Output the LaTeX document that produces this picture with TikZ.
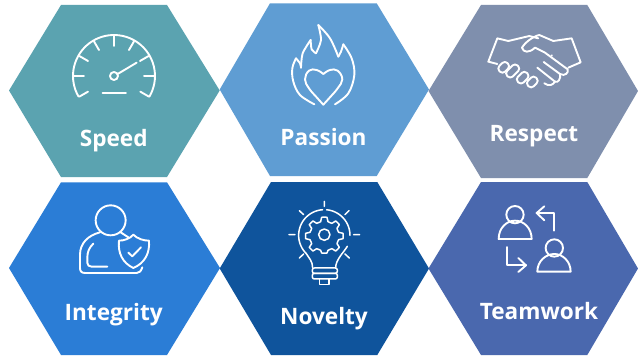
\documentclass[tikz,border=0pt]{standalone}
\usepackage{fontspec}
\setmainfont{Open Sans}
\definecolor{cspeed}{HTML}{5BA3B0}
\definecolor{cpassion}{HTML}{5F9DD3}
\definecolor{crespect}{HTML}{7F8FAD}
\definecolor{cintegrity}{HTML}{2B7DD6}
\definecolor{cnovelty}{HTML}{0F549C}
\definecolor{cteamwork}{HTML}{4A68AE}
\tikzset{
  lbl/.style={text=white,font=\fontsize{22.6}{25}\selectfont\bfseries,anchor=base,inner sep=0pt},
  ico/.style={draw=white,line width=1.9pt,line cap=round,line join=round},
  icothin/.style={draw=white,line width=1.5pt,line cap=round,line join=round},
  zoomed/.style={x=0.3333pt,y=-0.3333pt}
}
\begin{document}
\begin{tikzpicture}[x=1pt,y=-1pt]
\useasboundingbox (0,0) rectangle (638,361);
\fill[white] (0,0) rectangle (638,361);
% hexagons
\fill[cspeed] (9,90.5)--(61,5)--(167,5)--(219.7,90.5)--(167,177)--(61,177)--cycle;
\fill[cpassion] (219.7,89.5)--(270,3.3)--(376.7,3.3)--(429,89.5)--(376.7,176)--(270,176)--cycle;
\fill[crespect] (428.5,91)--(481,5)--(587.3,5)--(638,91)--(587.3,178)--(481,178)--cycle;
\fill[cintegrity] (9,268)--(61,182.3)--(167,182.3)--(220,268)--(167,355)--(61,355)--cycle;
\fill[cnovelty] (219.7,268.5)--(271,182)--(377.3,182)--(429,268.5)--(377.3,355)--(271,355)--cycle;
\fill[cteamwork] (428.5,268.5)--(481,182)--(587.3,182)--(638,268.5)--(587.3,355)--(481,355)--cycle;
% labels
\node[lbl] (speed) at (113.7,146.5) {Speed};
\node[lbl] (passion) at (323.5,145.7) {Passion};
\node[lbl] (respect) at (534,141.7) {Respect};
\node[lbl] (integrity) at (113.7,320.7) {Integrity};
\node[lbl] (novelty) at (324,324.7) {Novelty};
\node[lbl] (teamwork) at (539,319.7) {Teamwork};
% speedometer
\begin{scope}[zoomed]
 \draw[ico] plot[domain=-30:210,samples=50] ({342+123*cos(\x)},{228-123*sin(\x)});
 \draw[ico] (238,290)--(264,275) (447,290)--(421,275);
 \foreach \a in {0,30,60,90,120,150,180}
   \draw[ico] ({342+120*cos(\a)},{228-120*sin(\a)})--({342+90*cos(\a)},{228-90*sin(\a)});
 \draw[ico] (342,228) circle (12);
 \draw[ico] (353,222)--(410,188);
 \draw[ico] (308,278)--(378,278);
\end{scope}
% flame
\begin{scope}[zoomed,shift={(215pt,0pt)}]
 \draw[ico] plot[smooth,tension=0.6] coordinates {(298,313)(255,285)(235,245)(232,205)(243,175)};
 \draw[ico] plot[smooth,tension=0.5] coordinates {(243,175)(255,190)(258,203)};
 \draw[ico] plot[smooth,tension=0.5] coordinates {(258,203)(263,160)(287,120)};
 \draw[ico] plot[smooth,tension=0.5] coordinates {(287,120)(290,148)(303,160)};
 \draw[ico] plot[smooth,tension=0.5] coordinates {(303,160)(318,120)(310,75)};
 \draw[ico] plot[smooth,tension=0.6] coordinates {(310,75)(345,115)(370,170)};
 \draw[ico] plot[smooth,tension=0.5] coordinates {(370,170)(378,155)(385,133)};
 \draw[ico] plot[smooth,tension=0.6] coordinates {(385,133)(410,175)(418,225)(400,280)(360,313)};
 \draw[ico] plot[smooth,tension=0.7] coordinates {(325,222)(345,210)(368,212)(382,238)(368,265)(345,292)(325,314)};
 \draw[ico] plot[smooth,tension=0.7] coordinates {(325,222)(305,210)(282,212)(270,238)(282,265)(305,292)(325,314)};
\end{scope}
% handshake
\begin{scope}[zoomed,shift={(425pt,0pt)}]
 \draw[ico] (217,192)--(190,185)--(217,115)--(250,123)--(313,108)--(340,115);
 \draw[ico] (343,105)--(385,123)--(440,115)--(467,187)--(430,203);
 \draw[ico] (343,105)..controls (322,110) and (300,128)..(291,143)..controls (295,158) and (312,160)..(330,143)--(360,158)--(428,208)..controls (432,218) and (420,230)..(405,222)--(356,186);
 \draw[ico] (405,222)..controls (408,235) and (400,250)..(390,245)--(337,203);
 \draw[ico] (390,245)..controls (384,255) and (372,260)..(358,250);
 \draw[ico] (380,166)--(381,167);
 \foreach \cx/\cy/\l in {236/202/17,263/213/22,293/233/19,322/246/17}
   \draw[ico,rounded corners=3.5pt,rotate around={45:(\cx,\cy)}] (\cx-\l,\cy-12) rectangle (\cx+\l,\cy+12);
\end{scope}
% person + shield
\begin{scope}[zoomed,shift={(0pt,-178pt)}]
 \draw[ico] (332,127) circle (45);
 \draw[ico] (300,163)..controls (265,172) and (240,195)..(240,230)--(240,270)..controls (240,280) and (245,285)..(255,285)--(410,285)..controls (418,285) and (423,280)..(427,268);
 \draw[ico] (280,197)..controls (268,208) and (262,222)..(262,238)--(262,255)..controls (262,262) and (268,266)..(275,266)--(322,266);
 \draw[ico] (362,163)--(385,178);
 \draw[ico] (400,170)..controls (412,182) and (430,188)..(447,188)..controls (450,225) and (435,255)..(400,270)..controls (368,255) and (353,225)..(357,188)..controls (372,188) and (390,182)..(400,170)--cycle;
 \draw[ico] (385,224)--(397,235)--(423,208);
\end{scope}
% bulb + gear
\begin{scope}[zoomed,shift={(215pt,-178pt)}]
 \draw[icothin] (328,70)--(328,85) (253,98)--(266,110) (402,98)--(390,110) (222,170)--(240,170) (416,170)--(434,170) (253,240)--(266,228) (403,240)--(390,228);
 \draw[icothin] plot[domain=94:225,samples=30] ({328+77*cos(\x)},{172-77*sin(\x)})..controls (282,240) and (293,250)..(293,270);
 \draw[icothin] plot[domain=85:0,samples=20] ({328+77*cos(\x)},{172-77*sin(\x)});
 \draw[icothin] (397,205)..controls (385,225) and (362,245)..(362,270);
 \draw[icothin,rounded corners=2pt] (292,270) rectangle (367,286);
 \draw[icothin,rounded corners=2pt] (292,286) rectangle (367,303);
 \draw[icothin] (313,303)--(313,320)--(342,320)--(342,303);
 \draw[icothin] (328,170) circle (17);
 \draw[icothin] plot[smooth cycle,tension=0.15] coordinates {
   (320,118)(336,118)(339,131)(351,136)(362,129)(373,140)(366,151)(371,163)(384,166)(384,182)(371,185)(366,197)(373,208)(362,219)(351,212)(339,217)(336,225)(320,225)(317,217)(305,212)(294,219)(283,208)(290,197)(285,185)(272,182)(272,166)(285,163)(290,151)(283,140)(294,129)(305,136)(317,131)};
\end{scope}
% teamwork
\begin{scope}[zoomed,shift={(425pt,-178pt)}]
 \draw[ico] (270,110) circle (26);
 \draw[ico] (221,183)..controls (221,150) and (245,128)..(270,128)..controls (296,128) and (320,150)..(320,183)--cycle;
 \draw[ico] (388,158)--(388,105)--(335,105);
 \draw[ico] (358,85)--(335,105)--(358,127);
 \draw[ico] (388,210) circle (26);
 \draw[ico] (337,281)..controls (337,250) and (362,228)..(388,228)..controls (413,228) and (437,250)..(437,281)--cycle;
 \draw[ico] (247,207)--(247,262)--(303,262);
 \draw[ico] (280,240)--(303,262)--(280,282);
\end{scope}
\end{tikzpicture}
\end{document}
